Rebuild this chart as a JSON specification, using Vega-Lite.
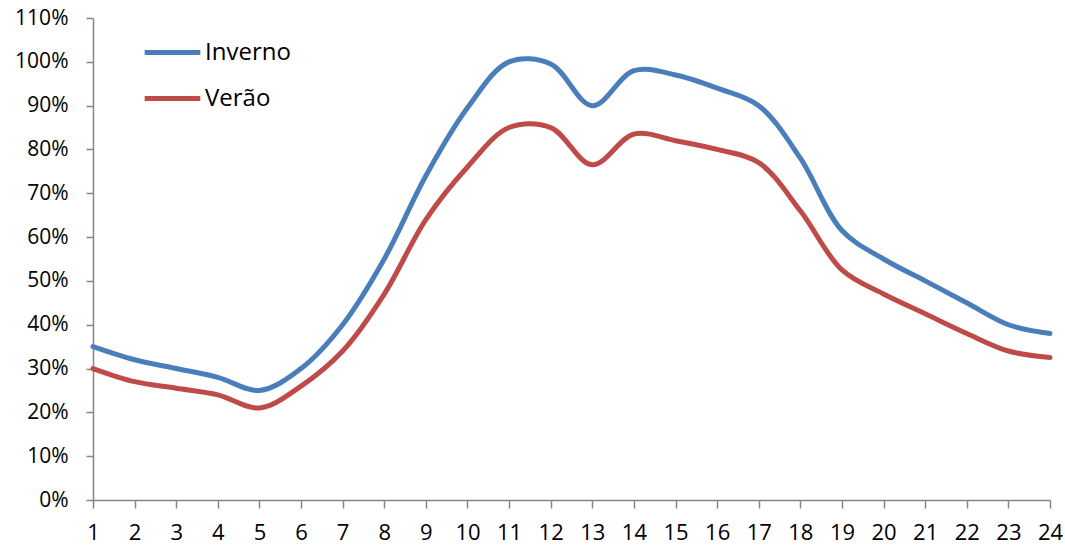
{
  "$schema": "https://vega.github.io/schema/vega-lite/v6.json",
  "width": 957,
  "height": 482,
  "autosize": {"type": "none"},
  "padding": {"left": 93, "top": 18, "right": 15, "bottom": 49},
  "background": "white",
  "config": {"view": {"stroke": null}, "font": "Open Sans"},
  "data": {
    "values": [
      {"hora": 1, "serie": "Inverno", "v": 0.35},
      {"hora": 2, "serie": "Inverno", "v": 0.32},
      {"hora": 3, "serie": "Inverno", "v": 0.30},
      {"hora": 4, "serie": "Inverno", "v": 0.28},
      {"hora": 5, "serie": "Inverno", "v": 0.25},
      {"hora": 6, "serie": "Inverno", "v": 0.30},
      {"hora": 7, "serie": "Inverno", "v": 0.40},
      {"hora": 8, "serie": "Inverno", "v": 0.55},
      {"hora": 9, "serie": "Inverno", "v": 0.74},
      {"hora": 10, "serie": "Inverno", "v": 0.895},
      {"hora": 11, "serie": "Inverno", "v": 1.0},
      {"hora": 12, "serie": "Inverno", "v": 0.995},
      {"hora": 13, "serie": "Inverno", "v": 0.90},
      {"hora": 14, "serie": "Inverno", "v": 0.98},
      {"hora": 15, "serie": "Inverno", "v": 0.97},
      {"hora": 16, "serie": "Inverno", "v": 0.94},
      {"hora": 17, "serie": "Inverno", "v": 0.90},
      {"hora": 18, "serie": "Inverno", "v": 0.78},
      {"hora": 19, "serie": "Inverno", "v": 0.615},
      {"hora": 20, "serie": "Inverno", "v": 0.55},
      {"hora": 21, "serie": "Inverno", "v": 0.50},
      {"hora": 22, "serie": "Inverno", "v": 0.45},
      {"hora": 23, "serie": "Inverno", "v": 0.40},
      {"hora": 24, "serie": "Inverno", "v": 0.38},
      {"hora": 1, "serie": "Verão", "v": 0.30},
      {"hora": 2, "serie": "Verão", "v": 0.27},
      {"hora": 3, "serie": "Verão", "v": 0.255},
      {"hora": 4, "serie": "Verão", "v": 0.24},
      {"hora": 5, "serie": "Verão", "v": 0.21},
      {"hora": 6, "serie": "Verão", "v": 0.26},
      {"hora": 7, "serie": "Verão", "v": 0.34},
      {"hora": 8, "serie": "Verão", "v": 0.47},
      {"hora": 9, "serie": "Verão", "v": 0.64},
      {"hora": 10, "serie": "Verão", "v": 0.76},
      {"hora": 11, "serie": "Verão", "v": 0.85},
      {"hora": 12, "serie": "Verão", "v": 0.85},
      {"hora": 13, "serie": "Verão", "v": 0.765},
      {"hora": 14, "serie": "Verão", "v": 0.835},
      {"hora": 15, "serie": "Verão", "v": 0.82},
      {"hora": 16, "serie": "Verão", "v": 0.80},
      {"hora": 17, "serie": "Verão", "v": 0.77},
      {"hora": 18, "serie": "Verão", "v": 0.66},
      {"hora": 19, "serie": "Verão", "v": 0.525},
      {"hora": 20, "serie": "Verão", "v": 0.47},
      {"hora": 21, "serie": "Verão", "v": 0.425},
      {"hora": 22, "serie": "Verão", "v": 0.38},
      {"hora": 23, "serie": "Verão", "v": 0.34},
      {"hora": 24, "serie": "Verão", "v": 0.325}
    ]
  },
  "mark": {"type": "line", "interpolate": "catmull-rom", "strokeWidth": 5, "strokeCap": "round", "strokeJoin": "round"},
  "encoding": {
    "x": {
      "field": "hora", "type": "quantitative",
      "scale": {"domain": [1, 24], "nice": false, "zero": false},
      "axis": {
        "title": null, "values": [1,2,3,4,5,6,7,8,9,10,11,12,13,14,15,16,17,18,19,20,21,22,23,24],
        "grid": false, "domainColor": "#868686", "domainWidth": 1.5, "tickColor": "#868686", "tickWidth": 1.5, "tickSize": 8,
        "labelFontSize": 22, "labelColor": "#000000", "labelPadding": 14, "labelFlush": false
      }
    },
    "y": {
      "field": "v", "type": "quantitative",
      "scale": {"domain": [0, 1.1], "nice": false},
      "axis": {
        "title": null, "format": ".0%", "values": [0,0.1,0.2,0.3,0.4,0.5,0.6,0.7,0.8,0.9,1.0,1.1],
        "grid": false, "domainColor": "#868686", "domainWidth": 1.5, "tickColor": "#868686", "tickWidth": 1.5, "tickSize": 7,
        "labelFontSize": 21, "labelColor": "#000000", "labelPadding": 18
      }
    },
    "color": {
      "field": "serie", "type": "nominal",
      "scale": {"domain": ["Inverno", "Verão"], "range": ["#4a7ebb", "#be4b48"]},
      "legend": {
        "title": null, "orient": "none", "legendX": 49, "legendY": 4,
        "symbolType": "stroke", "symbolSize": 3100, "symbolStrokeWidth": 5,
        "labelFontSize": 24, "labelColor": "#000000", "labelOffset": 2,
        "rowPadding": 3, "padding": 0
      }
    }
  }
}
